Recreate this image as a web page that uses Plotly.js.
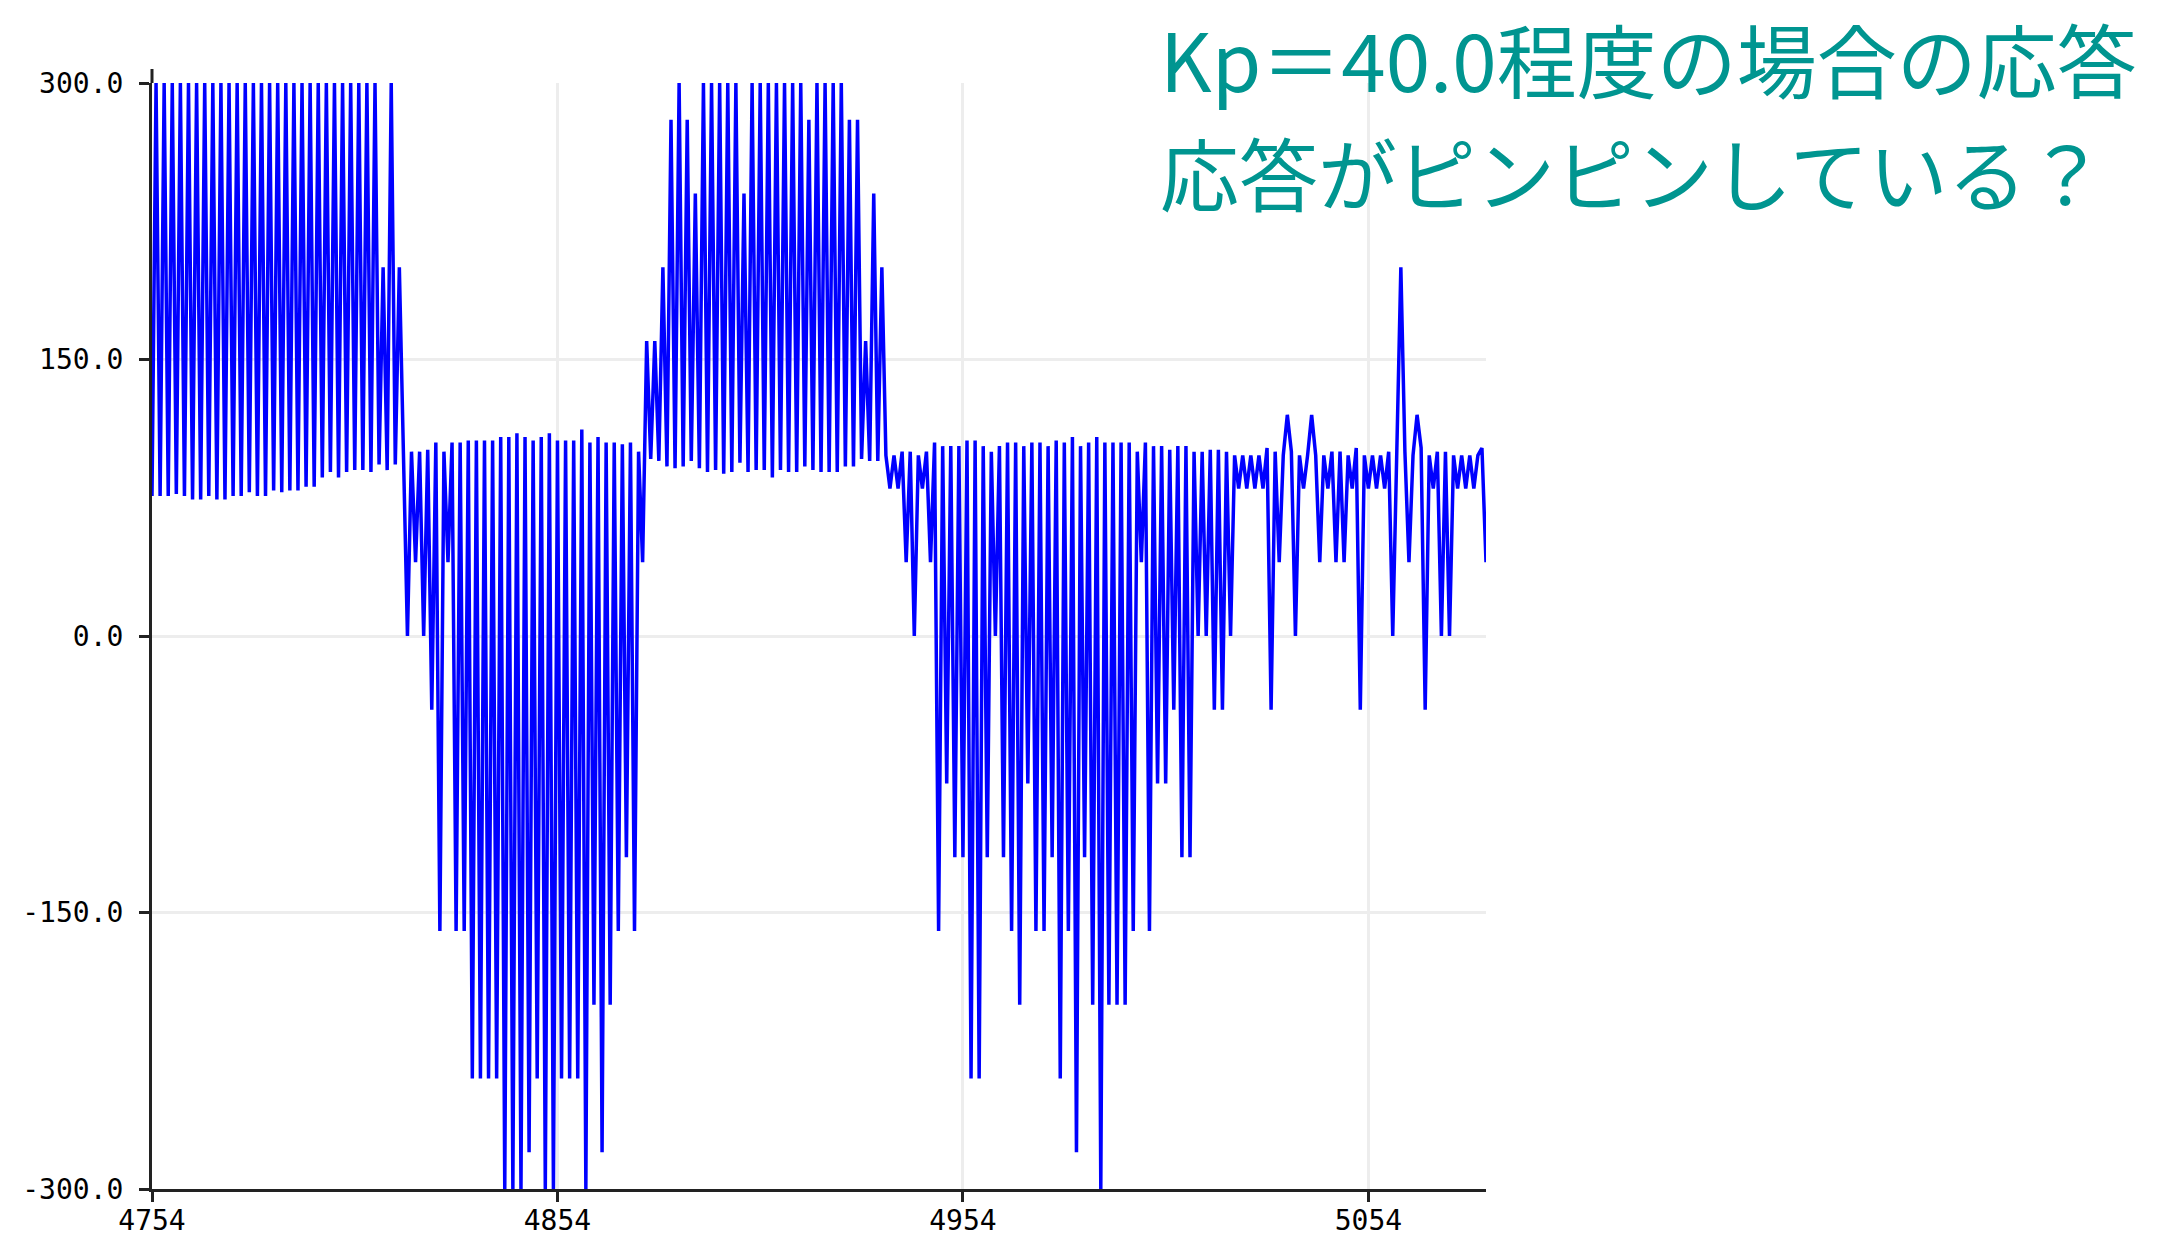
<!DOCTYPE html>
<html><head><meta charset="utf-8">
<script src="https://cdn.plot.ly/plotly-3.0.1.min.js"></script>
<style>html,body{margin:0;padding:0;background:#fff;} #chart{width:2180px;height:1237px;}</style>
</head><body><div id="chart"></div>
<script>
// sample index of the first value
const startIndex = 4754;
// 4754..4816 : saturated upward oscillation
const segA = [76,300,76,300,76,300,77,300,76,300,74,300,74,300,76,300,74,300,74,300,
  76,300,76,300,78,300,76,300,76,300,79,300,78,300,79,300,79,300,81,300,
  81,300,86,300,89,300,86,300,89,300,90,300,90,300,89,300,93,200,90,300,93,200,100];
// 4817..4875 : downward oscillation
const segB = [0,100,40,100,0,101,-40,105,-160,100,40,105,-160,105,-160,106,-240,106,-240,106,
  -240,106,-240,108,-300,108,-300,110,-300,108,-280,106,-240,108,-300,110,-300,106,-240,106,
  -240,106,-240,112,-300,105,-200,108,-280,105,-200,105,-160,104,-120,105,-160,100,40];
// 4876..4934 : upward oscillation
const segC = [160,96,160,95,200,92,280,91,300,92,280,95,240,91,300,89,300,90,300,88,
  300,89,300,94,240,89,300,90,300,90,300,86,300,90,300,89,300,89,300,92,
  280,90,300,89,300,89,300,89,300,92,280,92,280,96,160,95,240,95,200];
// 4935..5083 : downward oscillation, settling
const segD = [98,80,98,80,100,40,100,0,98,80,100,40,105,-160,103,-80,103,-120,103,-120,
  106,-240,106,-240,103,-120,100,0,103,-120,
  105,-160,105,-200,103,-80,105,-160,105,-160,103,-120,106,-240,105,-160,108,-280,103,-120,
  105,-200,108,-300,105,-200,105,-200,105,-200,
  105,-160,100,40,105,-160,103,-80,103,-80,101,-40,103,-120,103,-120,100,0,100,0,
  101,-40,101,-40,100,0,98,80,
  98,80,98,80,98,80,102,-40,100,40,98,120,100,0,98,80,98,120,98,40,
  98,80,100,40,100,40,98,80,102,-40,98,80,
  98,80,98,80,100,0,96,200,100,40,98,120,102,-40,98,80,100,0,100,0,
  98,80,98,80,98,80,98,102,40];

const yTickVals = [300, 150, 0, -150, -300];
const yTickText = ['300.0', '150.0', '0.0', '-150.0', '-300.0'];
const xTickVals = [4754, 4854, 4954, 5054];
const xTickText = ['4754', '4854', '4954', '5054'];
const titleLines = ['Kp＝40.0程度の場合の応答', '応答がピンピンしている？'];

const values = segA.concat(segB, segC, segD);
const xs = values.map((v, i) => startIndex + i);

const W = 2180, H = 1237, L = 152, R = 694, T = 83, B = 48;
const pw = W - L - R, ph = H - T - B;
const px = x => (x - L) / pw;
const py = y => (H - B - y) / ph;

const axisCommon = {
  showline: true, linecolor: '#222', linewidth: 3,
  ticks: 'outside', ticklen: 10, tickwidth: 3, tickcolor: '#222',
  showgrid: true, gridcolor: '#ededed', gridwidth: 3,
  zeroline: false,
  tickfont: {family: 'DejaVu Sans Mono, monospace', size: 28, color: '#000'}
};

const layout = {
  width: W, height: H,
  margin: {l: L, r: R, t: T, b: B, pad: 0},
  paper_bgcolor: '#fff', plot_bgcolor: '#fff',
  showlegend: false,
  xaxis: Object.assign({}, axisCommon, {
    range: [xs[0], xs[xs.length - 1]],
    tickmode: 'array', tickvals: xTickVals, ticktext: xTickText,
    ticklabelstandoff: -6
  }),
  yaxis: Object.assign({}, axisCommon, {
    range: [-300, 300],
    tickmode: 'array', tickvals: yTickVals, ticktext: yTickText,
    ticklabelstandoff: 10
  }),
  shapes: [{
    type: 'line', xref: 'paper', yref: 'paper',
    x0: 0, x1: 0, y0: 1, y1: py(69),
    line: {color: '#222', width: 3}
  }],
  annotations: [
    {text: titleLines[0], xref: 'paper', yref: 'paper', x: px(1158), y: py(57),
     xanchor: 'left', yanchor: 'middle', showarrow: false,
     font: {family: 'Noto Sans CJK JP', size: 80, color: '#009590'}},
    {text: titleLines[1], xref: 'paper', yref: 'paper', x: px(1158), y: py(171),
     xanchor: 'left', yanchor: 'middle', showarrow: false,
     font: {family: 'Noto Sans CJK JP', size: 79, color: '#009590'}}
  ]
};

const trace = {
  type: 'scatter', mode: 'lines', x: xs, y: values,
  line: {color: '#0000ff', width: 3.5},
  hoverinfo: 'skip'
};

Plotly.newPlot('chart', [trace], layout, {displayModeBar: false, staticPlot: true});
</script>
</body></html>
